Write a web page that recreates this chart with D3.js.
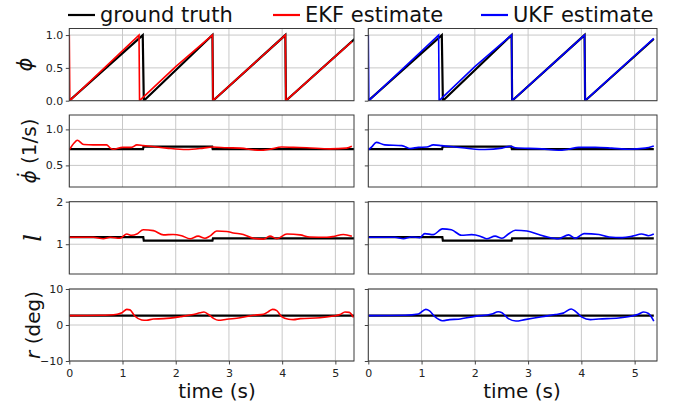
<!DOCTYPE html>
<html>
<head>
<meta charset="utf-8">
<script src="https://cdn.jsdelivr.net/npm/d3@7"></script>
<style>
body { margin: 0; background: #fff; }
svg { display: block; font-family: "DejaVu Sans", sans-serif; }
</style>
</head>
<body>
<div id="chart"></div>
<script>
// time ticks
var timeTicks = [0, 1, 2, 3, 4, 5];

// phase (wrapped 0..1)
var truthPhi = [[0,0],[1.38,1],[1.40,0],[2.69,1],[2.70,0],[4.06,1],[4.07,0],[5.36,0.94]];
var ekfPhi = [[0,1],[0.01,0],[1.31,1],[1.32,0],[2.0,0.52],[2.69,1],[2.70,0],[4.06,1],[4.07,0],[5.31,0.9]];
var ukfPhi = [[0,1],[0.01,0],[1.32,1],[1.33,0],[2.0,0.52],[2.69,1],[2.70,0],[4.06,1],[4.07,0],[5.36,0.95]];

// phase rate (1/s)
var truthPhiDot = [[0,0.725],[1.385,0.725],[1.395,0.76],[2.685,0.76],[2.695,0.725],[5.36,0.725]];
var ekfPhiDot = [[0,0.716],[0.09,0.81],[0.15,0.85],[0.27,0.79],[0.45,0.785],[0.70,0.785],[0.77,0.74],[0.83,0.725],
  [1.0,0.75],[1.17,0.75],[1.27,0.785],[1.39,0.775],[1.52,0.765],[1.83,0.74],[2.2,0.72],[2.52,0.74],[2.69,0.755],
  [2.96,0.745],[3.21,0.74],[3.58,0.71],[3.77,0.725],[3.99,0.755],[4.21,0.75],[4.46,0.745],[4.9,0.73],[5.21,0.74],[5.31,0.765]];
var ukfPhiDot = [[0,0.716],[0.07,0.76],[0.15,0.82],[0.31,0.785],[0.63,0.775],[0.69,0.76],[0.78,0.735],[0.94,0.75],
  [1.1,0.755],[1.22,0.785],[1.38,0.775],[1.63,0.755],[1.88,0.735],[2.19,0.72],[2.51,0.74],[2.67,0.765],[2.76,0.745],
  [3.26,0.73],[3.57,0.71],[3.76,0.725],[3.95,0.75],[4.26,0.75],[4.57,0.74],[4.89,0.725],[5.2,0.74],[5.36,0.77]];

// leg length l
var truthL = [[0,1.165],[1.39,1.165],[1.40,1.085],[2.69,1.085],[2.70,1.14],[5.36,1.14]];
var ekfL = [[0,1.165],[0.45,1.165],[0.64,1.13],[0.77,1.165],[0.95,1.14],[1.08,1.24],[1.17,1.21],[1.27,1.24],[1.39,1.34],
  [1.58,1.32],[1.77,1.22],[1.95,1.23],[2.11,1.2],[2.27,1.13],[2.42,1.19],[2.55,1.14],[2.64,1.19],[2.77,1.31],[2.96,1.3],
  [3.08,1.265],[3.27,1.23],[3.46,1.14],[3.65,1.12],[3.77,1.19],[3.9,1.13],[4.09,1.24],[4.34,1.22],[4.52,1.17],
  [4.84,1.165],[4.96,1.18],[5.15,1.23],[5.31,1.19]];
var ukfL = [[0,1.165],[0.5,1.165],[0.66,1.13],[0.81,1.17],[0.97,1.155],[1.06,1.25],[1.22,1.225],[1.39,1.36],[1.56,1.34],
  [1.75,1.21],[1.94,1.225],[2.1,1.19],[2.22,1.13],[2.38,1.19],[2.51,1.14],[2.63,1.24],[2.76,1.33],[2.98,1.31],
  [3.2,1.23],[3.38,1.165],[3.57,1.13],[3.76,1.22],[3.89,1.14],[4.05,1.25],[4.33,1.23],[4.52,1.17],[4.77,1.155],
  [4.96,1.19],[5.13,1.24],[5.26,1.2],[5.36,1.24]];

// roll r (deg)
var truthR = [[0,2.6],[5.36,2.6]];
var ekfR = [[0,2.6],[0.58,2.7],[0.9,3.0],[0.99,3.4],[1.08,4.35],[1.14,4.2],[1.23,2.5],[1.36,1.4],[1.45,1.3],[1.58,1.67],
  [1.77,1.76],[2.08,2.3],[2.33,2.9],[2.46,3.4],[2.53,3.6],[2.61,3.0],[2.71,1.85],[2.8,1.3],[2.96,1.6],[3.21,2.0],
  [3.46,2.7],[3.65,3.0],[3.74,3.7],[3.82,4.35],[3.9,4.0],[3.99,2.3],[4.12,1.6],[4.21,1.5],[4.34,1.76],[4.71,2.0],
  [4.96,2.5],[5.09,2.9],[5.18,3.6],[5.26,3.5],[5.34,2.1]];
var ukfR = [[0,2.6],[0.69,2.7],[0.94,3.05],[1.08,4.35],[1.15,3.9],[1.25,2.3],[1.39,1.2],[1.53,1.5],[1.69,1.6],[2.0,2.4],
  [2.32,3.05],[2.44,3.7],[2.51,3.4],[2.63,1.76],[2.77,1.1],[2.94,1.5],[3.26,2.3],[3.51,2.9],[3.66,3.3],[3.81,4.45],
  [3.88,3.9],[4.01,2.2],[4.17,1.5],[4.33,1.67],[4.7,1.95],[4.95,2.5],[5.07,3.0],[5.17,3.6],[5.26,3.2],[5.36,1.1]];

var width = 681, height = 411;

var svg = d3.select('#chart').append('svg')
    .attr('width', width)
    .attr('height', height);

var cols = [
  { x0: 69.3, x1: 354, tmax: 5.35, est: [ekfPhi, ekfPhiDot, ekfL, ekfR], color: '#ff0000' },
  { x0: 368.3, x1: 657, tmax: 5.42, est: [ukfPhi, ukfPhiDot, ukfL, ukfR], color: '#0000ff' }
];

var rows = [
  { y0: 28.5, y1: 100.7, dom: [0, 1.1], ticks: [0, 0.5, 1.0], fmt: d3.format('.1f'), truth: truthPhi, curve: d3.curveLinear },
  { y0: 115, y1: 187, dom: [0.2, 1.2], ticks: [0.5, 1.0], fmt: d3.format('.1f'), truth: truthPhiDot, curve: d3.curveMonotoneX },
  { y0: 201.7, y1: 274, dom: [0.3, 2], ticks: [1, 2], fmt: d3.format('d'), truth: truthL, curve: d3.curveMonotoneX },
  { y0: 289, y1: 361, dom: [-10, 10], ticks: [-10, 0, 10], fmt: function(d) { return d < 0 ? '\u2212' + (-d) : d; }, truth: truthR, curve: d3.curveMonotoneX }
];

var defs = svg.append('defs');

cols.forEach(function(c, ci) {
  var x = d3.scaleLinear().domain([0, c.tmax]).range([c.x0, c.x1]);

  rows.forEach(function(r, ri) {
    var y = d3.scaleLinear().domain(r.dom).range([r.y1, r.y0]);
    var g = svg.append('g');
    var clipId = 'clip' + ci + ri;
    defs.append('clipPath').attr('id', clipId)
      .append('rect')
      .attr('x', c.x0).attr('y', r.y0)
      .attr('width', c.x1 - c.x0).attr('height', r.y1 - r.y0);

    // grid
    g.selectAll('.vgrid').data(timeTicks).enter().append('line')
      .attr('x1', function(d) { return x(d); }).attr('x2', function(d) { return x(d); })
      .attr('y1', r.y0).attr('y2', r.y1)
      .attr('stroke', '#c8c8c8').attr('stroke-width', 1);
    g.selectAll('.hgrid').data(r.ticks).enter().append('line')
      .attr('x1', c.x0).attr('x2', c.x1)
      .attr('y1', function(d) { return y(d); }).attr('y2', function(d) { return y(d); })
      .attr('stroke', '#c8c8c8').attr('stroke-width', 1);

    // lines
    var line = d3.line()
      .x(function(d) { return x(d[0]); })
      .y(function(d) { return y(d[1]); });

    var plot = g.append('g').attr('clip-path', 'url(#' + clipId + ')');
    plot.append('path')
      .attr('d', line.curve(d3.curveLinear)(r.truth))
      .attr('fill', 'none').attr('stroke', '#000').attr('stroke-width', 2.2);
    plot.append('path')
      .attr('d', line.curve(r.curve)(c.est[ri]))
      .attr('fill', 'none').attr('stroke', c.color).attr('stroke-width', 1.6);

    // axes
    var yAxis = d3.axisLeft(y).tickValues(r.ticks).tickSize(3.5).tickPadding(2.5)
      .tickFormat(ci === 0 ? r.fmt : '');
    var ya = g.append('g').attr('transform', 'translate(' + c.x0 + ',0)').call(yAxis);
    ya.select('.domain').remove();

    var xAxis = d3.axisBottom(x).tickValues(timeTicks).tickSize(3.5).tickPadding(5)
      .tickFormat(ri === 3 ? d3.format('d') : '');
    var xa = g.append('g').attr('transform', 'translate(0,' + r.y1 + ')').call(xAxis);
    xa.select('.domain').remove();
    if (ri !== 3) xa.selectAll('.tick line').remove();

    [ya, xa].forEach(function(a) {
      a.selectAll('.tick line').attr('stroke', '#444');
      a.selectAll('.tick text').attr('fill', '#222').style('font-size', '11px')
        .style('font-family', '"DejaVu Sans", sans-serif');
    });

    // frame
    g.append('rect')
      .attr('x', c.x0).attr('y', r.y0)
      .attr('width', c.x1 - c.x0).attr('height', r.y1 - r.y0)
      .attr('fill', 'none').attr('stroke', '#3a3a3a').attr('stroke-width', 1);
  });

  // x label
  svg.append('text')
    .attr('x', ci === 0 ? 217 : 522)
    .attr('y', 398)
    .attr('text-anchor', 'middle')
    .style('font-size', '20px')
    .attr('fill', '#111')
    .text('time (s)');
});

// y labels: math part (italic) + plain part, baseline x per label
var yLabels = [
  { base: 32, math: '\u03d5', plain: '', size: 21, serif: false },
  { base: 36, math: '\u03d5\u0307', plain: ' (1/s)', size: 20, serif: false },
  { base: 41, math: 'l', plain: '', size: 24, serif: true },
  { base: 40, math: 'r', plain: ' (deg)', size: 20, serif: false }
];

yLabels.forEach(function(l, i) {
  var cy = (rows[i].y0 + rows[i].y1) / 2;
  var t = svg.append('text')
    .attr('transform', 'translate(' + l.base + ',' + cy + ') rotate(-90)')
    .attr('text-anchor', 'middle')
    .style('font-size', l.size + 'px')
    .attr('fill', '#111');
  t.append('tspan')
    .style('font-style', 'italic')
    .style('font-family', l.serif ? '"DejaVu Serif", serif' : '"DejaVu Sans", sans-serif')
    .text(l.math);
  if (l.plain) t.append('tspan').text(l.plain);
});

// legend
var legendItems = [
  { label: 'ground truth', color: '#000', x: 68 },
  { label: 'EKF estimate', color: '#ff0000', x: 273 },
  { label: 'UKF estimate', color: '#0000ff', x: 481 }
];

var legendG = svg.selectAll('.legend')
  .data(legendItems)
  .enter().append('g')
  .attr('class', 'legend')
  .attr('transform', function(d) { return 'translate(' + d.x + ',15)'; });

legendG.append('line')
  .attr('x1', 0).attr('x2', 27)
  .attr('stroke', function(d) { return d.color; })
  .attr('stroke-width', 2.2);

legendG.append('text')
  .attr('x', 32).attr('y', 7)
  .style('font-size', '21px')
  .attr('fill', '#111')
  .text(function(d) { return d.label; });
</script>
</body>
</html>
